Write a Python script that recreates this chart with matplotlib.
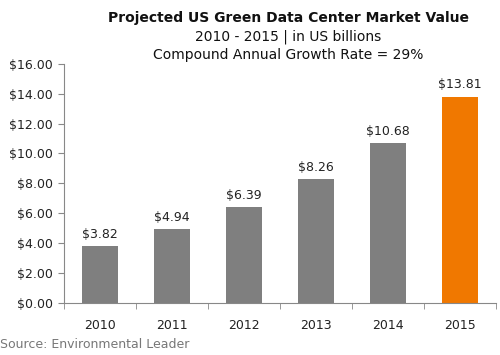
import numpy as np
import matplotlib
matplotlib.use('Agg')
import matplotlib.pyplot as plt

# data
years = ['2010', '2011', '2012', '2013', '2014', '2015']
values = [3.82, 4.94, 6.39, 8.26, 10.68, 13.81]
colors = ['#7f7f7f'] * 5 + ['#f07800']

plt.rcParams['font.family'] = ['Verdana', 'DejaVu Sans']

fig = plt.figure(figsize=(5, 3.55), dpi=100)
ax = fig.add_axes([0.128, 0.147, 0.864, 0.673])

x = np.arange(len(years))
ax.bar(x, values, width=0.5, color=colors)
for xi, v in zip(x, values):
    ax.text(xi, v + 0.35, '$%.2f' % v, ha='center', va='bottom', fontsize=9, color='#222222')

ax.set_xlim(-0.5, len(years) - 0.5)
ax.set_ylim(0, 16)
ax.set_yticks(np.arange(0, 17, 2))
ax.set_yticklabels(['$%.2f' % t for t in np.arange(0, 17, 2)])
ax.set_xticks(x)
ax.set_xticklabels(years)
ax.set_xticks(np.arange(-0.5, len(years)), minor=True)
ax.tick_params(axis='x', which='major', length=0, pad=12, labelsize=9, colors='#222222')
ax.tick_params(axis='x', which='minor', length=4, color='#888888')
ax.tick_params(axis='y', length=4, color='#888888', labelsize=9, labelcolor='#222222', pad=4)

for s in ['top', 'right']:
    ax.spines[s].set_visible(False)
ax.spines['left'].set_color('#888888')
ax.spines['bottom'].set_color('#888888')

fig.text(0.577, 0.95, 'Projected US Green Data Center Market Value', ha='center', va='center',
         fontsize=10, fontweight='heavy', color='#111111')
fig.text(0.577, 0.896, '2010 - 2015 | in US billions', ha='center', va='center', fontsize=10, color='#111111')
fig.text(0.577, 0.845, 'Compound Annual Growth Rate = 29%', ha='center', va='center', fontsize=10, color='#111111')
fig.text(0.0, 0.03, 'Source: Environmental Leader', ha='left', va='center', fontsize=9, color='#777777')

fig.savefig('out.png', dpi=100)
